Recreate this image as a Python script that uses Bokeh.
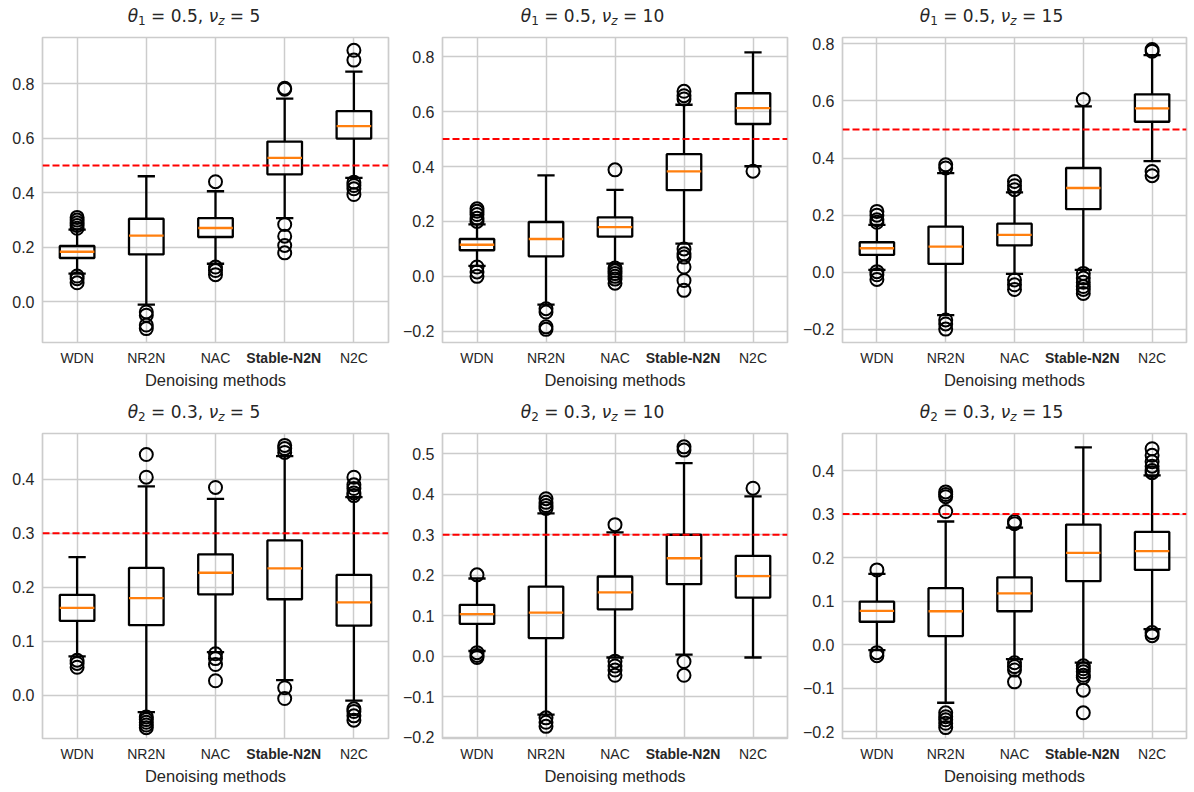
import numpy as np
from bokeh.plotting import figure
from bokeh.models import (FixedTicker, SingleIntervalTicker, CustomJSTickFormatter,
                          Span, ColumnDataSource, Range1d, Title, Div)
from bokeh.layouts import row, column
from bokeh.embed import file_html
from bokeh.resources import INLINE

methods = ["WDN", "NR2N", "NAC", "Stable-N2N", "N2C"]

# ---- Panel 1: theta1 = 0.5, nu_z = 5
p1_whislo = [0.104, -0.010, 0.140, 0.307, 0.455]
p1_q1 = [0.161, 0.174, 0.238, 0.468, 0.599]
p1_med = [0.184, 0.243, 0.271, 0.528, 0.645]
p1_q3 = [0.205, 0.305, 0.307, 0.588, 0.700]
p1_whishi = [0.265, 0.461, 0.406, 0.746, 0.845]
p1_fliers = [[0.31, 0.30, 0.29, 0.28, 0.27, 0.095, 0.085, 0.07],
             [-0.037, -0.049, -0.085, -0.098],
             [0.441, 0.128, 0.115, 0.10],
             [0.784, 0.78, 0.284, 0.241, 0.207, 0.18],
             [0.923, 0.887, 0.439, 0.427, 0.415, 0.394]]

# ---- Panel 2: theta1 = 0.5, nu_z = 10
p2_whislo = [0.038, -0.103, 0.046, 0.119, 0.401]
p2_q1 = [0.095, 0.073, 0.145, 0.314, 0.555]
p2_med = [0.115, 0.136, 0.179, 0.382, 0.613]
p2_q3 = [0.136, 0.198, 0.215, 0.445, 0.667]
p2_whishi = [0.189, 0.368, 0.315, 0.625, 0.816]
p2_fliers = [[0.246, 0.237, 0.225, 0.212, 0.20, 0.034, 0.016, 0.0],
             [-0.118, -0.13, -0.184, -0.193],
             [0.388, 0.03, 0.02, 0.01, 0.0, -0.01, -0.025],
             [0.674, 0.658, 0.646, 0.10, 0.082, 0.07, 0.034, -0.015, -0.051],
             [0.383]]

# ---- Panel 3: theta1 = 0.5, nu_z = 15
p3_whislo = [0.008, -0.150, -0.006, 0.008, 0.389]
p3_q1 = [0.061, 0.029, 0.094, 0.221, 0.527]
p3_med = [0.084, 0.090, 0.131, 0.295, 0.574]
p3_q3 = [0.105, 0.160, 0.170, 0.365, 0.623]
p3_whishi = [0.166, 0.347, 0.280, 0.581, 0.760]
p3_fliers = [[0.213, 0.20, 0.184, 0.175, 0.002, -0.009, -0.025],
             [0.376, 0.365, -0.167, -0.181, -0.199],
             [0.318, 0.303, 0.289, -0.027, -0.044, -0.06],
             [0.605, -0.004, -0.02, -0.035, -0.05, -0.06, -0.074],
             [0.78, 0.774, 0.353, 0.338]]

# ---- Panel 4: theta2 = 0.3, nu_z = 5
p4_whislo = [0.072, -0.031, 0.080, 0.028, -0.010]
p4_q1 = [0.138, 0.130, 0.187, 0.178, 0.129]
p4_med = [0.162, 0.180, 0.227, 0.235, 0.172]
p4_q3 = [0.186, 0.236, 0.261, 0.287, 0.223]
p4_whishi = [0.256, 0.387, 0.364, 0.443, 0.367]
p4_fliers = [[0.065, 0.059, 0.052],
             [0.446, 0.404, -0.04, -0.045, -0.05, -0.055, -0.06],
             [0.385, 0.077, 0.068, 0.057, 0.027],
             [0.463, 0.457, 0.45, 0.014, -0.006],
             [0.404, 0.39, 0.383, 0.375, 0.37, -0.025, -0.03, -0.038, -0.046]]

# ---- Panel 5: theta2 = 0.3, nu_z = 10
p5_whislo = [0.013, -0.144, -0.003, 0.004, -0.003]
p5_q1 = [0.080, 0.045, 0.116, 0.178, 0.145]
p5_med = [0.104, 0.108, 0.158, 0.242, 0.198]
p5_q3 = [0.127, 0.172, 0.197, 0.300, 0.248]
p5_whishi = [0.192, 0.353, 0.306, 0.477, 0.395]
p5_fliers = [[0.201, 0.009, 0.002, -0.003],
             [0.389, 0.38, 0.372, 0.365, -0.152, -0.163, -0.173],
             [0.325, -0.012, -0.024, -0.034, -0.047],
             [0.517, 0.509, -0.013, -0.047],
             [0.415]]

# ---- Panel 6: theta2 = 0.3, nu_z = 15
p6_whislo = [-0.012, -0.133, -0.033, -0.041, 0.036]
p6_q1 = [0.053, 0.020, 0.077, 0.146, 0.172]
p6_med = [0.078, 0.077, 0.118, 0.211, 0.215]
p6_q3 = [0.099, 0.130, 0.155, 0.276, 0.259]
p6_whishi = [0.163, 0.283, 0.269, 0.453, 0.389]
p6_fliers = [[0.172, -0.018, -0.025],
             [0.351, 0.345, 0.34, 0.306, -0.156, -0.165, -0.172, -0.18, -0.19],
             [0.283, 0.278, -0.041, -0.05, -0.058, -0.085],
             [-0.048, -0.055, -0.062, -0.07, -0.075, -0.104, -0.156],
             [0.45, 0.435, 0.42, 0.41, 0.40, 0.395, 0.028, 0.021]]

theta_subs = ["1", "1", "1", "2", "2", "2"]
theta_vals = ["0.5", "0.5", "0.5", "0.3", "0.3", "0.3"]
nu_vals = ["5", "10", "15", "5", "10", "15"]
ref_lines = [0.5, 0.5, 0.5, 0.3, 0.3, 0.3]
y_ranges = [(-0.149, 0.970), (-0.241, 0.870), (-0.246, 0.822),
            (-0.080, 0.485), (-0.203, 0.550), (-0.215, 0.485)]
y_steps = [0.2, 0.2, 0.2, 0.1, 0.1, 0.1]
x_label = "Denoising methods"

TEXT = "#262626"
GRID = "#cccccc"
SANS = "Liberation Sans"
MATH = "DejaVu Sans"

# layout (frame sizes and borders)
col_left = [42, 44, 45]
col_frame = [346, 345, 344]
col_right = [10, 10, 2]
title_h = [32, 33]
TOP = 5
row_bottom = [53, 48]
FRAME_H = 305
LW = 2.3
BOLD_W = 74.7      # approx. width of the bold 14px label
BOLD_STANDOFF = 12
BOLD_PANEL = 2 + 16 + BOLD_STANDOFF

fmt = CustomJSTickFormatter(code="""
    if (Math.abs(tick) < 1e-9) { return "0.0"; }
    const s = Math.abs(tick).toFixed(1);
    return tick < 0 ? "\\u2212" + s : s;
""")


def title_div(i):
    r, c = divmod(i, 3)
    width = col_left[c] + col_frame[c] + col_right[c]
    sub = "font-size:12px;vertical-align:-3px;line-height:0;"
    html = (f'<div style="margin:0;padding:{title_h[r] + TOP - 15.3 - 15.9:.1f}px 0 0 {col_left[c]}px;'
            f'width:{col_frame[c]}px;text-align:center;font-family:\'{MATH}\';'
            f'font-size:17px;line-height:20px;color:{TEXT};white-space:nowrap;">'
            f'<i>θ</i><span style="{sub}">{theta_subs[i]}</span> = {theta_vals[i]}, '
            f'<i>ν</i><span style="{sub}font-style:italic;">z</span> = {nu_vals[i]}</div>')
    return Div(text=html, width=width, height=title_h[r], margin=(0, 0, 0, 0))


def make_panel(i, whislo, q1, med, q3, whishi, fliers):
    r, c = divmod(i, 3)
    p = figure(frame_width=col_frame[c], frame_height=FRAME_H,
               min_border_left=col_left[c], min_border_right=col_right[c],
               min_border_top=TOP, min_border_bottom=row_bottom[r],
               x_range=Range1d(0.5, 5.5), y_range=Range1d(*y_ranges[i]),
               output_backend="svg", toolbar_location=None,
               background_fill_color="white", border_fill_color="white")
    x = np.arange(1, len(methods) + 1, dtype=float)
    src = ColumnDataSource(dict(x=x, xl=x - 0.25, xr=x + 0.25, cl=x - 0.125, cr=x + 0.125,
                                whislo=whislo, q1=q1, med=med, q3=q3, whishi=whishi))
    p.segment("x", "q3", "x", "whishi", source=src, line_color="black", line_width=LW)
    p.segment("x", "q1", "x", "whislo", source=src, line_color="black", line_width=LW)
    p.segment("cl", "whishi", "cr", "whishi", source=src, line_color="black", line_width=LW)
    p.segment("cl", "whislo", "cr", "whislo", source=src, line_color="black", line_width=LW)
    p.quad(left="xl", right="xr", bottom="q1", top="q3", source=src,
           fill_alpha=0, line_color="black", line_width=LW)
    p.segment("xl", "med", "xr", "med", source=src, line_color="#ff7f0e", line_width=LW)
    fx = [x[k] for k, fl in enumerate(fliers) for _ in fl]
    fy = [v for fl in fliers for v in fl]
    p.scatter(fx, fy, marker="circle", size=13, fill_color=None,
              line_color="black", line_width=2)
    p.add_layout(Span(location=ref_lines[i], dimension="width", line_color="#ff0000",
                      line_dash="7 3", line_width=2))

    xax = p.xaxis[0]
    xax.ticker = FixedTicker(ticks=list(x))
    xax.major_label_overrides = {int(k + 1): (m if m != "Stable-N2N" else "")
                                 for k, m in enumerate(methods)}
    p.yaxis.ticker = SingleIntervalTicker(interval=y_steps[i], num_minor_ticks=0)
    p.yaxis.formatter = fmt
    for ax in (xax, p.yaxis[0]):
        ax.axis_line_color = None
        ax.major_tick_line_color = None
        ax.minor_tick_line_color = None
        ax.major_tick_out = 0
        ax.major_tick_in = 0
        ax.major_label_text_color = TEXT
        ax.major_label_text_font = SANS
    p.yaxis.major_label_text_font_size = "16px"
    p.yaxis.major_label_standoff = 8
    xax.major_label_text_font_size = "14px"
    xax.axis_label = x_label
    xax.axis_label_text_font = SANS
    xax.axis_label_text_font_size = "16.5px"
    xax.axis_label_text_font_style = "normal"
    xax.axis_label_text_color = TEXT
    xax.axis_label_standoff = 2

    # bold category label: a Title right under the frame; the axis labels are pulled up
    sidx = methods.index("Stable-N2N")
    frac = (x[sidx] - 0.5) / 5.0
    bold = Title(text=methods[sidx], text_font=SANS, text_font_size="14px",
                 text_font_style="bold", text_color=TEXT, align="left",
                 vertical_align="middle", standoff=BOLD_STANDOFF,
                 offset=frac * col_frame[c] - BOLD_W / 2.0 - 1)
    p.below = [bold, xax]
    xax.major_label_standoff = 7 - BOLD_PANEL

    p.xgrid.grid_line_color = GRID
    p.ygrid.grid_line_color = GRID
    p.xgrid.grid_line_width = 1.5
    p.ygrid.grid_line_width = 1.5
    p.outline_line_color = GRID
    p.outline_line_width = 1.7
    return p


panels = [
    make_panel(0, p1_whislo, p1_q1, p1_med, p1_q3, p1_whishi, p1_fliers),
    make_panel(1, p2_whislo, p2_q1, p2_med, p2_q3, p2_whishi, p2_fliers),
    make_panel(2, p3_whislo, p3_q1, p3_med, p3_q3, p3_whishi, p3_fliers),
    make_panel(3, p4_whislo, p4_q1, p4_med, p4_q3, p4_whishi, p4_fliers),
    make_panel(4, p5_whislo, p5_q1, p5_med, p5_q3, p5_whishi, p5_fliers),
    make_panel(5, p6_whislo, p6_q1, p6_med, p6_q3, p6_whishi, p6_fliers),
]
titles = [title_div(i) for i in range(6)]

layout = column(row(*titles[:3]), row(*panels[:3]),
                row(*titles[3:]), row(*panels[3:]))
open("out.html", "w").write(file_html(layout, INLINE))
